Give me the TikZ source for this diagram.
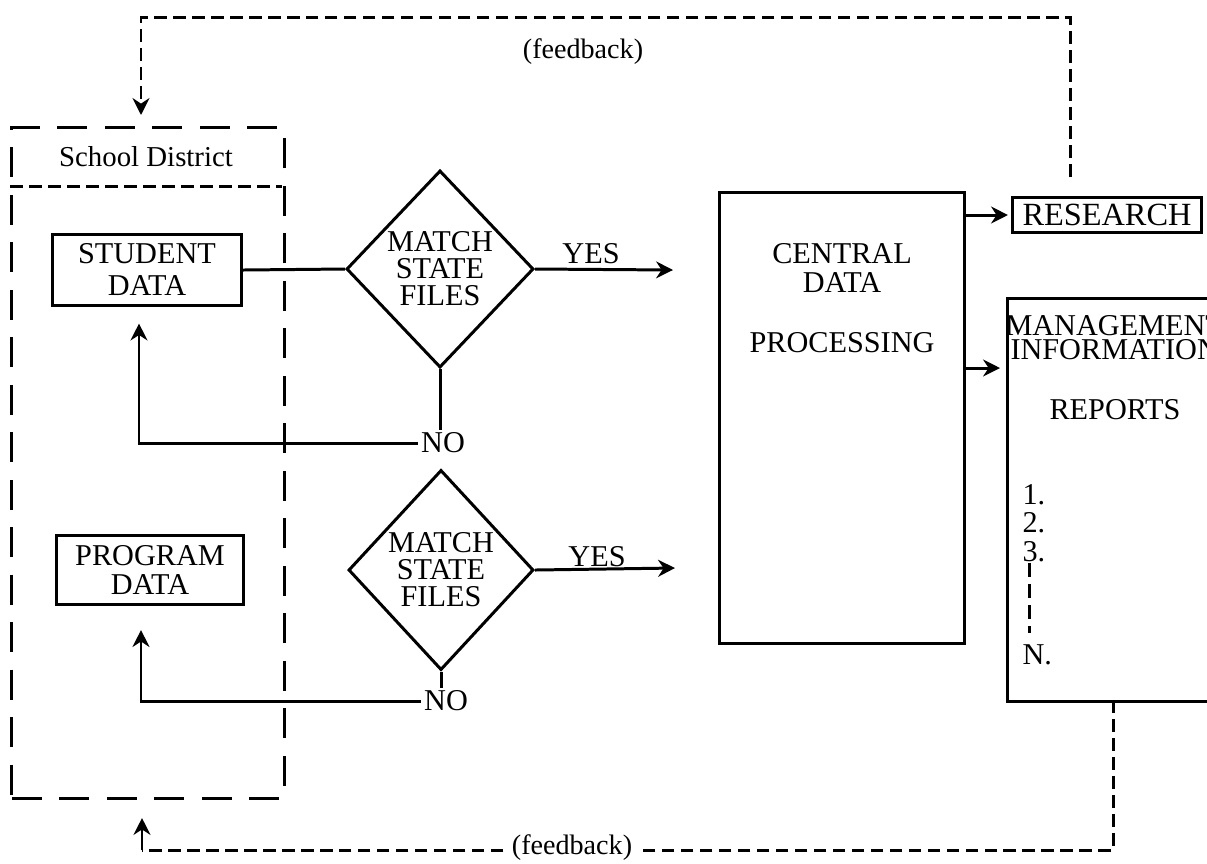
\documentclass[tikz,border=0pt]{standalone}
\usepackage{fontspec}
\setmainfont{Liberation Serif}
\usetikzlibrary{shapes.geometric,arrows.meta}

\tikzset{
	box/.style={draw, inner sep=0pt, align=center, font=\fontsize{8.6}{9.1}\selectfont},
	decision/.style={draw, diamond, inner sep=0pt, align=center, minimum width=1.87cm, minimum height=1.97cm, font=\fontsize{8.6}{7.7}\selectfont},
	lbl/.style={inner sep=1pt, font=\fontsize{8.6}{8.6}\selectfont},
	arr/.style={-{Stealth[length=4.8pt,width=4.8pt]}},
	fb/.style={dash pattern=on 3.6pt off 1.8pt},
	frameline/.style={dash pattern=on 8.5pt off 5pt},
}

\begin{document}
\begin{tikzpicture}[x=0.01cm, y=-0.01cm, line width=0.85pt]
		\useasboundingbox (0, 0) rectangle (1207, 863);
		\clip (0, 0) rectangle (1207, 863);
		% school district frame
		\node[draw, frameline, inner sep=0pt, minimum width=2.72cm, minimum height=6.70cm] (district) at (148, 463) {};
		\draw[fb] (district.north west) ++(0, 60) -- ++(272, 0);
		\node[font=\fontsize{8.2}{8.2}\selectfont] (distname) at (146, 157) {School District};
		\node[box, minimum width=1.89cm, minimum height=0.70cm] (student) at (147, 270) {STUDENT\\DATA};
		\node[box, minimum width=1.87cm, minimum height=0.69cm, font=\fontsize{8.6}{8.5}\selectfont] (program) at (150, 570) {PROGRAM\\DATA};
		% checks against the state files
		\node[decision] (match1) at (440, 269) {MATCH\\STATE\\FILES};
		\node[decision, minimum width=1.85cm, minimum height=2.0cm] (match2) at (441, 570) {MATCH\\STATE\\FILES};
		\node[lbl] (yes1) at (591, 254) {YES};
		\node[lbl] (yes2) at (597, 557) {YES};
		\node[lbl, inner sep=0.5pt] (no1) at (443, 443) {NO};
		\node[lbl, inner sep=0.5pt] (no2) at (446, 701) {NO};
		\coordinate (yes1end) at (673, 270);
		\coordinate (yes2end) at (675, 568);
		% processing and outputs
		\node[box, minimum width=2.44cm, minimum height=4.50cm] (central) at (842, 418) {};
		\node[lbl, align=center, font=\fontsize{8.6}{8.5}\selectfont] (centraltxt) at (842, 298) {CENTRAL\\DATA\\[8.5pt]PROCESSING};
		\node[box, minimum width=1.89cm, minimum height=0.35cm, font=\fontsize{9.2}{9.2}\selectfont] (research) at (1107, 215) {RESEARCH};
		\node[draw, anchor=north west, inner sep=0pt, minimum width=2.6cm, minimum height=4.03cm] (mis) at (1006, 297) {};
		\node[lbl, anchor=north west, align=left, inner sep=0pt, font=\fontsize{8.6}{6.9}\selectfont] (mistitle) at (1004, 314) {MANAGEMENT\\\hspace*{0.05cm}INFORMATION};
		\node[lbl] (misrep) at (1115, 410) {REPORTS};
		\foreach \y/\t in {495/1., 523/2., 552/3., 655/N.} {
			\node[lbl, anchor=west, inner sep=0pt] (item\y) at (1021, \y) {\t};
		}
		\draw[dash pattern=on 4pt off 2pt] (1029, 563) -- (1029, 633);
		\coordinate (misin) at (1000, 368);
		% connectors
		\draw (student.east) -- (match1.west);
		\draw[arr] (match1.east) -- (yes1end);
		\draw[arr] (match2.east) -- (yes2end);
		\draw (match1.south) -- (match1.south |- no1.north);
		\draw (match2.south) -- (match2.south |- no2.north);
		\draw[arr, shorten >=0.17cm] (no1.west) -| ([xshift=-0.08cm]student.south);
		\draw[arr, shorten >=0.24cm] (no2.west) -| ([xshift=-0.09cm]program.south);
		\draw[arr] (central.east |- research.west) -- ([xshift=-0.03cm]research.west);
		\draw[arr] (central.east |- misin) -- (misin);
		% feedback loops
		\coordinate (fbtop) at (1070, 177);
		\coordinate (fbdown) at (141, 115);
		\draw[fb, arr] (fbtop) -- (1070, 17) -| (fbdown);
		\node[font=\fontsize{8}{8}\selectfont] (fbtxt1) at (583, 52) {(feedback)};
		\coordinate (fbout) at (1113, 700);
		\coordinate (fbcorner) at (142, 850);
		\coordinate (fbup) at (142, 818);
		\draw[fb] (fbout) |- (fbcorner);
		\draw[arr] (fbcorner) -- (fbup);
		\node[fill=white, inner sep=2pt, font=\fontsize{8}{8}\selectfont] (fbtxt2) at (572, 848) {(feedback)};
	\end{tikzpicture}
\end{document}
